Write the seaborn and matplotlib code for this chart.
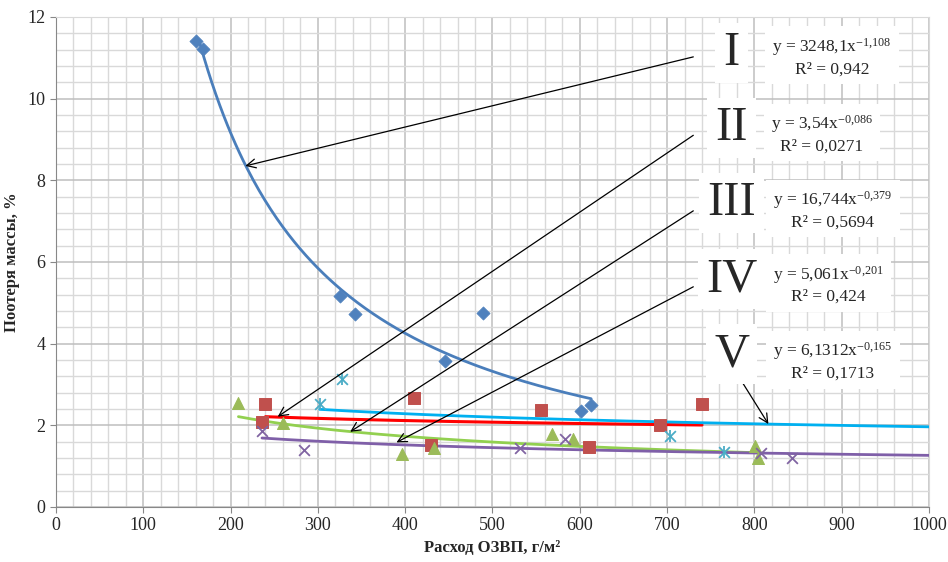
import numpy as np
import pandas as pd
import seaborn as sns
import matplotlib.pyplot as plt
from matplotlib.ticker import MultipleLocator

x_I = [160, 168, 325, 343, 446, 489, 601, 613]
y_I = [11.40, 11.22, 5.16, 4.72, 3.57, 4.76, 2.35, 2.49]

x_II = [236, 239, 410, 430, 555, 611, 692, 740]
y_II = [2.08, 2.51, 2.67, 1.51, 2.37, 1.47, 2.00, 2.52]

x_III = [208, 260, 396, 433, 568, 592, 801, 804]
y_III = [2.54, 2.05, 1.29, 1.45, 1.78, 1.66, 1.49, 1.19]

x_IV = [236, 284, 531, 583, 808, 843]
y_IV = [1.86, 1.39, 1.44, 1.66, 1.32, 1.19]

x_V = [302, 328, 703, 765]
y_V = [2.53, 3.14, 1.73, 1.35]

# Power trend lines y = a * x^b as printed on the chart
labels = ["I", "II", "III", "IV", "V"]
coef_a = [3248.1, 3.54, 16.744, 5.061, 6.1312]
coef_b = [-1.108, -0.086, -0.379, -0.201, -0.165]
r2 = ["0,942", "0,0271", "0,5694", "0,424", "0,1713"]
eq_text = ["3248,1", "3,54", "16,744", "5,061", "6,1312"]
exp_text = ["-1{,}108", "-0{,}086", "-0{,}379", "-0{,}201", "-0{,}165"]
fit_from = [165, 240, 209, 236, 302]
fit_to = [613, 740, 804, 1000, 1000]

marker_colors = ["#4F81BD", "#C0504D", "#9BBB59", "#8064A2", "#4BACC6"]
line_colors = ["#4A7EBB", "#FF0000", "#92D050", "#7F5FA8", "#00B0F0"]

sns.set_style("white")
plt.rcParams["font.family"] = ["Liberation Serif", "DejaVu Serif"]
plt.rcParams["mathtext.fontset"] = "custom"
plt.rcParams["mathtext.rm"] = "Liberation Serif"
plt.rcParams["mathtext.default"] = "regular"

fig = plt.figure(figsize=(9.48, 5.62), dpi=100)
ax = fig.add_axes([0.059, 0.098, 0.921, 0.872])

# trend lines
for i in range(5):
    xs = np.linspace(fit_from[i], fit_to[i], 200)
    tr = pd.DataFrame({"x": xs, "y": coef_a[i] * xs ** coef_b[i]})
    sns.lineplot(data=tr, x="x", y="y", ax=ax, color=line_colors[i],
                 lw=2.0 if i != 1 else 2.2, zorder=3)

# markers
sns.scatterplot(x=x_I, y=y_I, ax=ax, marker="D", s=45, color=marker_colors[0],
                edgecolor=marker_colors[0], zorder=4)
sns.scatterplot(x=x_II, y=y_II, ax=ax, marker="s", s=75, color=marker_colors[1],
                edgecolor=marker_colors[1], zorder=4)
sns.scatterplot(x=x_III, y=y_III, ax=ax, marker="^", s=75, color=marker_colors[2],
                edgecolor=marker_colors[2], zorder=4)
sns.scatterplot(x=x_IV, y=y_IV, ax=ax, marker="x", s=60, color=marker_colors[3],
                linewidth=1.3, zorder=4)
sns.scatterplot(x=x_V, y=y_V, ax=ax, marker="x", s=60, color=marker_colors[4],
                linewidth=1.3, zorder=4)
sns.scatterplot(x=x_V, y=y_V, ax=ax, marker="|", s=80, color=marker_colors[4],
                linewidth=1.3, zorder=4)

ax.set_xlim(0, 1000)
ax.set_ylim(0, 12)
ax.xaxis.set_major_locator(MultipleLocator(100))
ax.xaxis.set_minor_locator(MultipleLocator(20))
ax.yaxis.set_major_locator(MultipleLocator(2))
ax.yaxis.set_minor_locator(MultipleLocator(0.4))
ax.grid(which="major", color="#BEBEBE", lw=1.1, zorder=0)
ax.grid(which="minor", color="#D9D9D9", lw=1.0, zorder=0)
ax.set_axisbelow(True)
for s in ["top", "right"]:
    ax.spines[s].set_color("#D9D9D9")
for s in ["left", "bottom"]:
    ax.spines[s].set_color("#888888")
ax.tick_params(which="major", direction="out", length=4, color="#888888",
               labelsize=13, left=True, bottom=True)
ax.tick_params(which="minor", length=0)

ax.set_xlabel("Расход ОЗВП, г/м²", fontsize=12, fontweight="bold", labelpad=4)
ax.set_ylabel("Поотеря массы, %", fontsize=12, fontweight="bold", labelpad=5)

# annotations: roman numerals, equations and arrows
num_x = 774
num_y = [11.12, 9.28, 7.44, 5.58, 3.74]
eq_x = [889, 877, 890, 885, 890]
eq_y = [11.03, 9.14, 7.28, 5.45, 3.57]
arrow_from = [(730, 11.02), (730, 9.10), (730, 7.25), (730, 5.39), (785, 3.09)]
arrow_to = [(217, 8.35), (254, 2.21), (337, 1.84), (390, 1.58), (816, 2.03)]

for i in range(5):
    ax.annotate("", xy=arrow_to[i], xytext=arrow_from[i],
                arrowprops=dict(arrowstyle="->", color="black", lw=0.9,
                                mutation_scale=16, shrinkA=0, shrinkB=0),
                zorder=5)
    ax.text(num_x, num_y[i], labels[i], fontsize=35, ha="center", va="center",
            zorder=6, bbox=dict(facecolor="white", edgecolor="none", pad=6))
    ax.text(eq_x[i], eq_y[i],
            "y = " + eq_text[i] + "x$^{" + exp_text[i] + "}$\nR² = " + r2[i],
            fontsize=12.5, ha="center", va="center", linespacing=1.3,
            zorder=6, bbox=dict(facecolor="white", edgecolor="none", pad=5))

fig.savefig("out.png", dpi=100)
